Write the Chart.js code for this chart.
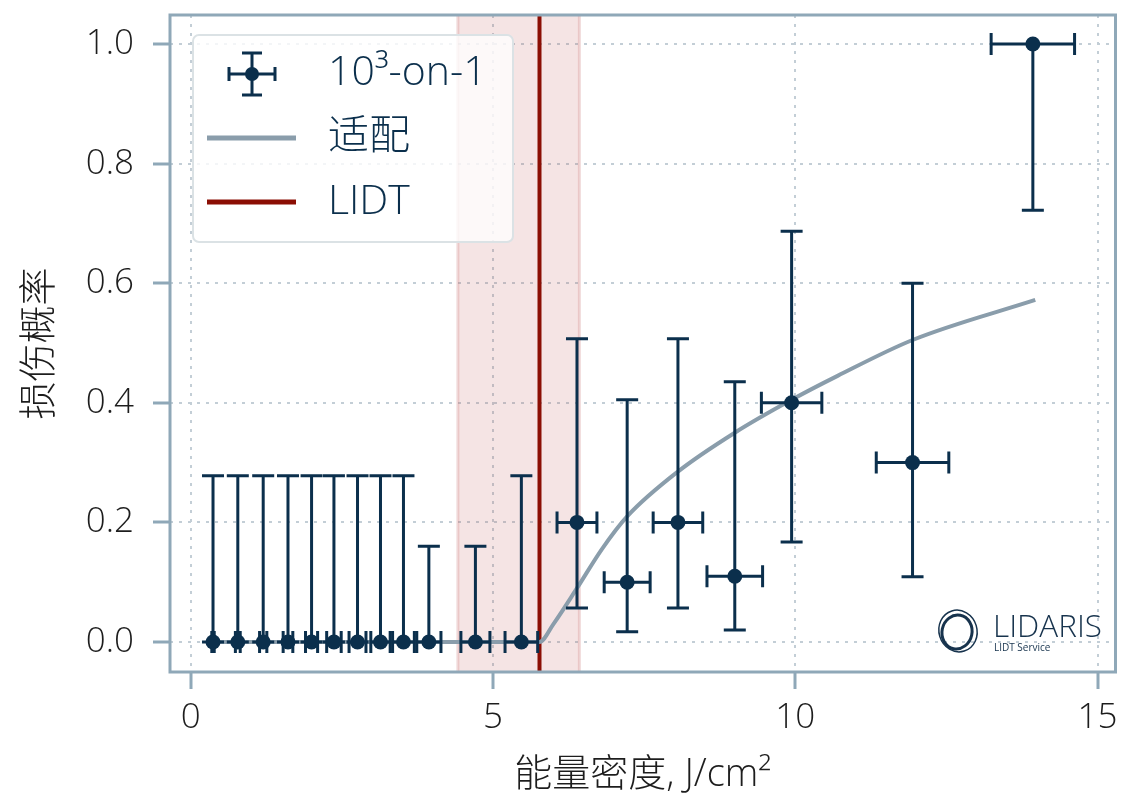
<!DOCTYPE html>
<html>
<head>
<meta charset="utf-8">
<script src="https://cdn.jsdelivr.net/npm/chart.js@4"></script>
<style>
html, body { margin: 0; padding: 0; background: #fff; overflow: hidden; }
canvas { display: block; }
</style>
</head>
<body>
<canvas id="c" width="1123" height="799"></canvas>
<script>
var fluence = [0.37, 0.78, 1.2, 1.61, 2.0, 2.37, 2.76, 3.14, 3.52, 3.94, 4.71, 5.47, 6.39, 7.22, 8.06, 9.0, 9.94, 11.94, 13.93];
var probability = [0, 0, 0, 0, 0, 0, 0, 0, 0, 0, 0, 0, 0.2, 0.1, 0.2, 0.11, 0.4, 0.3, 1.0];
var probLower = [0, 0, 0, 0, 0, 0, 0, 0, 0, 0, 0, 0, 0.057, 0.017, 0.057, 0.02, 0.167, 0.109, 0.722];
var probUpper = [0.278, 0.278, 0.278, 0.278, 0.278, 0.278, 0.278, 0.278, 0.278, 0.16, 0.16, 0.278, 0.507, 0.405, 0.507, 0.435, 0.687, 0.6, 1.0];
var fluenceErr = [0.02, 0.04, 0.06, 0.08, 0.1, 0.12, 0.14, 0.16, 0.18, 0.2, 0.24, 0.27, 0.33, 0.38, 0.41, 0.46, 0.5, 0.6, 0.69];

// fitted curve
var fitX = [0.37, 5.77, 6.0, 6.39, 6.8, 7.22, 8.06, 9.0, 9.94, 10.7, 11.94, 13.97];
var fitY = [0, 0, 0.03, 0.09, 0.155, 0.21, 0.285, 0.35, 0.405, 0.445, 0.505, 0.572];

// LIDT and its uncertainty band
var lidt = 5.77;
var lidtLow = 4.42;
var lidtHigh = 6.43;

var xTicks = [0, 5, 10, 15];
var yTicks = [0, 0.2, 0.4, 0.6, 0.8, 1.0];

var NAVY = '#0b2f4c';
var FIT = '#8a9dab';
var RED = '#8b0e04';
var FRAME = '#8fa8b8';
var FONT = '"Open Sans", "Noto Sans CJK SC", sans-serif';

var decor = {
    id: 'decor',
    beforeDatasetsDraw: function(chart) {
        var ctx = chart.ctx, a = chart.chartArea, sx = chart.scales.x;
        var x0 = sx.getPixelForValue(lidtLow), x1 = sx.getPixelForValue(lidtHigh);
        ctx.save();
        ctx.fillStyle = 'rgba(190, 90, 90, 0.16)';
        ctx.fillRect(x0, a.top, x1 - x0, a.bottom - a.top);
        ctx.strokeStyle = 'rgba(200, 110, 110, 0.25)';
        ctx.lineWidth = 3;
        ctx.beginPath();
        ctx.moveTo(x0, a.top); ctx.lineTo(x0, a.bottom);
        ctx.moveTo(x1, a.top); ctx.lineTo(x1, a.bottom);
        ctx.stroke();
        var xl = sx.getPixelForValue(lidt);
        ctx.strokeStyle = RED;
        ctx.lineWidth = 4;
        ctx.beginPath();
        ctx.moveTo(xl, a.top); ctx.lineTo(xl, a.bottom);
        ctx.stroke();
        ctx.restore();
    },
    beforeDatasetDraw: function(chart, args) {
        if (args.index !== 1) return;
        var ctx = chart.ctx, sx = chart.scales.x, sy = chart.scales.y;
        ctx.save();
        ctx.strokeStyle = NAVY;
        ctx.lineWidth = 3;
        for (var i = 0; i < fluence.length; i++) {
            var cx = sx.getPixelForValue(fluence[i]);
            var cy = sy.getPixelForValue(probability[i]);
            var yl = sy.getPixelForValue(probLower[i]);
            var yh = sy.getPixelForValue(probUpper[i]);
            var xa = sx.getPixelForValue(fluence[i] - fluenceErr[i]);
            var xb = sx.getPixelForValue(fluence[i] + fluenceErr[i]);
            ctx.beginPath();
            ctx.moveTo(cx, yl); ctx.lineTo(cx, yh);
            ctx.moveTo(cx - 11, yl); ctx.lineTo(cx + 11, yl);
            ctx.moveTo(cx - 11, yh); ctx.lineTo(cx + 11, yh);
            ctx.moveTo(xa, cy); ctx.lineTo(xb, cy);
            ctx.moveTo(xa, cy - 11); ctx.lineTo(xa, cy + 11);
            ctx.moveTo(xb, cy - 11); ctx.lineTo(xb, cy + 11);
            ctx.stroke();
        }
        ctx.restore();
    },
    afterDraw: function(chart) {
        var ctx = chart.ctx, a = chart.chartArea;
        ctx.save();
        // frame
        ctx.strokeStyle = FRAME;
        ctx.lineWidth = 3;
        ctx.strokeRect(a.left, a.top, a.right - a.left, a.bottom - a.top);

        // legend
        var lx = 193, ly = 35, lw = 320, lh = 207;
        ctx.beginPath();
        ctx.roundRect(lx, ly, lw, lh, 6);
        ctx.fillStyle = 'rgba(255,255,255,0.8)';
        ctx.fill();
        ctx.strokeStyle = '#dbe2e5';
        ctx.lineWidth = 2;
        ctx.stroke();

        // errorbar symbol
        var ex = 252, ey = 74;
        ctx.strokeStyle = NAVY;
        ctx.lineWidth = 3;
        ctx.beginPath();
        ctx.moveTo(ex - 23, ey); ctx.lineTo(ex + 23, ey);
        ctx.moveTo(ex - 23, ey - 7); ctx.lineTo(ex - 23, ey + 7);
        ctx.moveTo(ex + 23, ey - 7); ctx.lineTo(ex + 23, ey + 7);
        ctx.moveTo(ex, ey - 21); ctx.lineTo(ex, ey + 21);
        ctx.moveTo(ex - 10, ey - 21); ctx.lineTo(ex + 10, ey - 21);
        ctx.moveTo(ex - 10, ey + 21); ctx.lineTo(ex + 10, ey + 21);
        ctx.stroke();
        ctx.fillStyle = NAVY;
        ctx.beginPath();
        ctx.arc(ex, ey, 7, 0, Math.PI * 2);
        ctx.fill();

        ctx.lineWidth = 5;
        ctx.strokeStyle = FIT;
        ctx.beginPath(); ctx.moveTo(207, 138); ctx.lineTo(296, 138); ctx.stroke();
        ctx.strokeStyle = RED;
        ctx.beginPath(); ctx.moveTo(207, 202); ctx.lineTo(296, 202); ctx.stroke();

        ctx.fillStyle = NAVY;
        ctx.textBaseline = 'middle';
        ctx.textAlign = 'left';
        ctx.font = '300 41px ' + FONT;
        ctx.fillText('10\u00b3-on-1', 328, 73);
        ctx.fillText('适配', 328, 137);
        ctx.fillText('LIDT', 328, 202);

        // logo
        ctx.strokeStyle = '#17334d';
        ctx.lineWidth = 3;
        ctx.beginPath();
        ctx.ellipse(957, 632, 15, 17, 0.2, 0, Math.PI * 2);
        ctx.stroke();
        ctx.lineWidth = 1.5;
        ctx.beginPath();
        ctx.ellipse(958, 631, 19, 21, -0.3, 0, Math.PI * 2);
        ctx.stroke();
        ctx.fillStyle = '#17334d';
        ctx.textBaseline = 'alphabetic';
        ctx.font = '300 32px ' + FONT;
        var w = ctx.measureText('LIDARIS').width;
        ctx.save();
        ctx.translate(993, 637);
        ctx.scale(109 / w, 1);
        ctx.fillText('LIDARIS', 0, 0);
        ctx.restore();
        ctx.font = '10px ' + FONT;
        ctx.fillText('LIDT Service', 994, 651);
        ctx.restore();
    }
};

var fitData = fitX.map(function(x, i) { return {x: x, y: fitY[i]}; });
var pointData = fluence.map(function(x, i) { return {x: x, y: probability[i]}; });

function noPad(s) {
    s.paddingTop = 0; s.paddingBottom = 0; s.paddingLeft = 0; s.paddingRight = 0;
}

new Chart(document.getElementById('c'), {
    type: 'scatter',
    data: {
        datasets: [{
            label: '适配',
            data: fitData,
            showLine: true,
            borderColor: FIT,
            borderWidth: 4,
            pointRadius: 0,
            cubicInterpolationMode: 'monotone',
            order: 2
        }, {
            label: '10\u00b3-on-1',
            data: pointData,
            showLine: false,
            backgroundColor: NAVY,
            borderColor: NAVY,
            pointRadius: 7.5,
            borderWidth: 0,
            order: 1
        }]
    },
    options: {
        responsive: false,
        animation: false,
        layout: { padding: { top: 15, right: 4, left: 0, bottom: 0 } },
        plugins: { legend: { display: false }, tooltip: { enabled: false } },
        scales: {
            x: {
                type: 'linear',
                min: -0.3415,
                max: 15.297,
                afterBuildTicks: function(s) { s.ticks = xTicks.map(function(v) { return {value: v}; }); },
                afterFit: function(s) { s.height = 127; noPad(s); },
                ticks: {
                    color: '#1d1d1d',
                    padding: 8,
                    font: { family: FONT, size: 35, weight: '300' },
                    callback: function(v) { return String(v); }
                },
                grid: { color: '#c3ced6', lineWidth: 2, tickLength: 17, tickColor: FRAME, tickWidth: 3, tickBorderDash: [] },
                border: { display: false, dash: [3, 6] },
                title: {
                    display: true,
                    text: '能量密度, J/cm\u00b2',
                    color: '#1d1d1d',
                    font: { family: FONT, size: 38, weight: '300' },
                    padding: { top: 0, bottom: 1 }
                }
            },
            y: {
                type: 'linear',
                min: -0.0502,
                max: 1.0485,
                afterBuildTicks: function(s) { s.ticks = yTicks.map(function(v) { return {value: v}; }); },
                afterFit: function(s) { s.width = 170; noPad(s); },
                ticks: {
                    color: '#1d1d1d',
                    padding: 19,
                    font: { family: FONT, size: 35, weight: '300' },
                    callback: function(v) { return v.toFixed(1); }
                },
                grid: { color: '#c3ced6', lineWidth: 2, tickLength: 17, tickColor: FRAME, tickWidth: 3, tickBorderDash: [] },
                border: { display: false, dash: [3, 6] },
                title: {
                    display: true,
                    text: '损伤概率',
                    color: '#1d1d1d',
                    font: { family: FONT, size: 38, weight: '300' },
                    padding: { top: 17, bottom: 0 }
                }
            }
        }
    },
    plugins: [decor]
});
</script>
</body>
</html>
